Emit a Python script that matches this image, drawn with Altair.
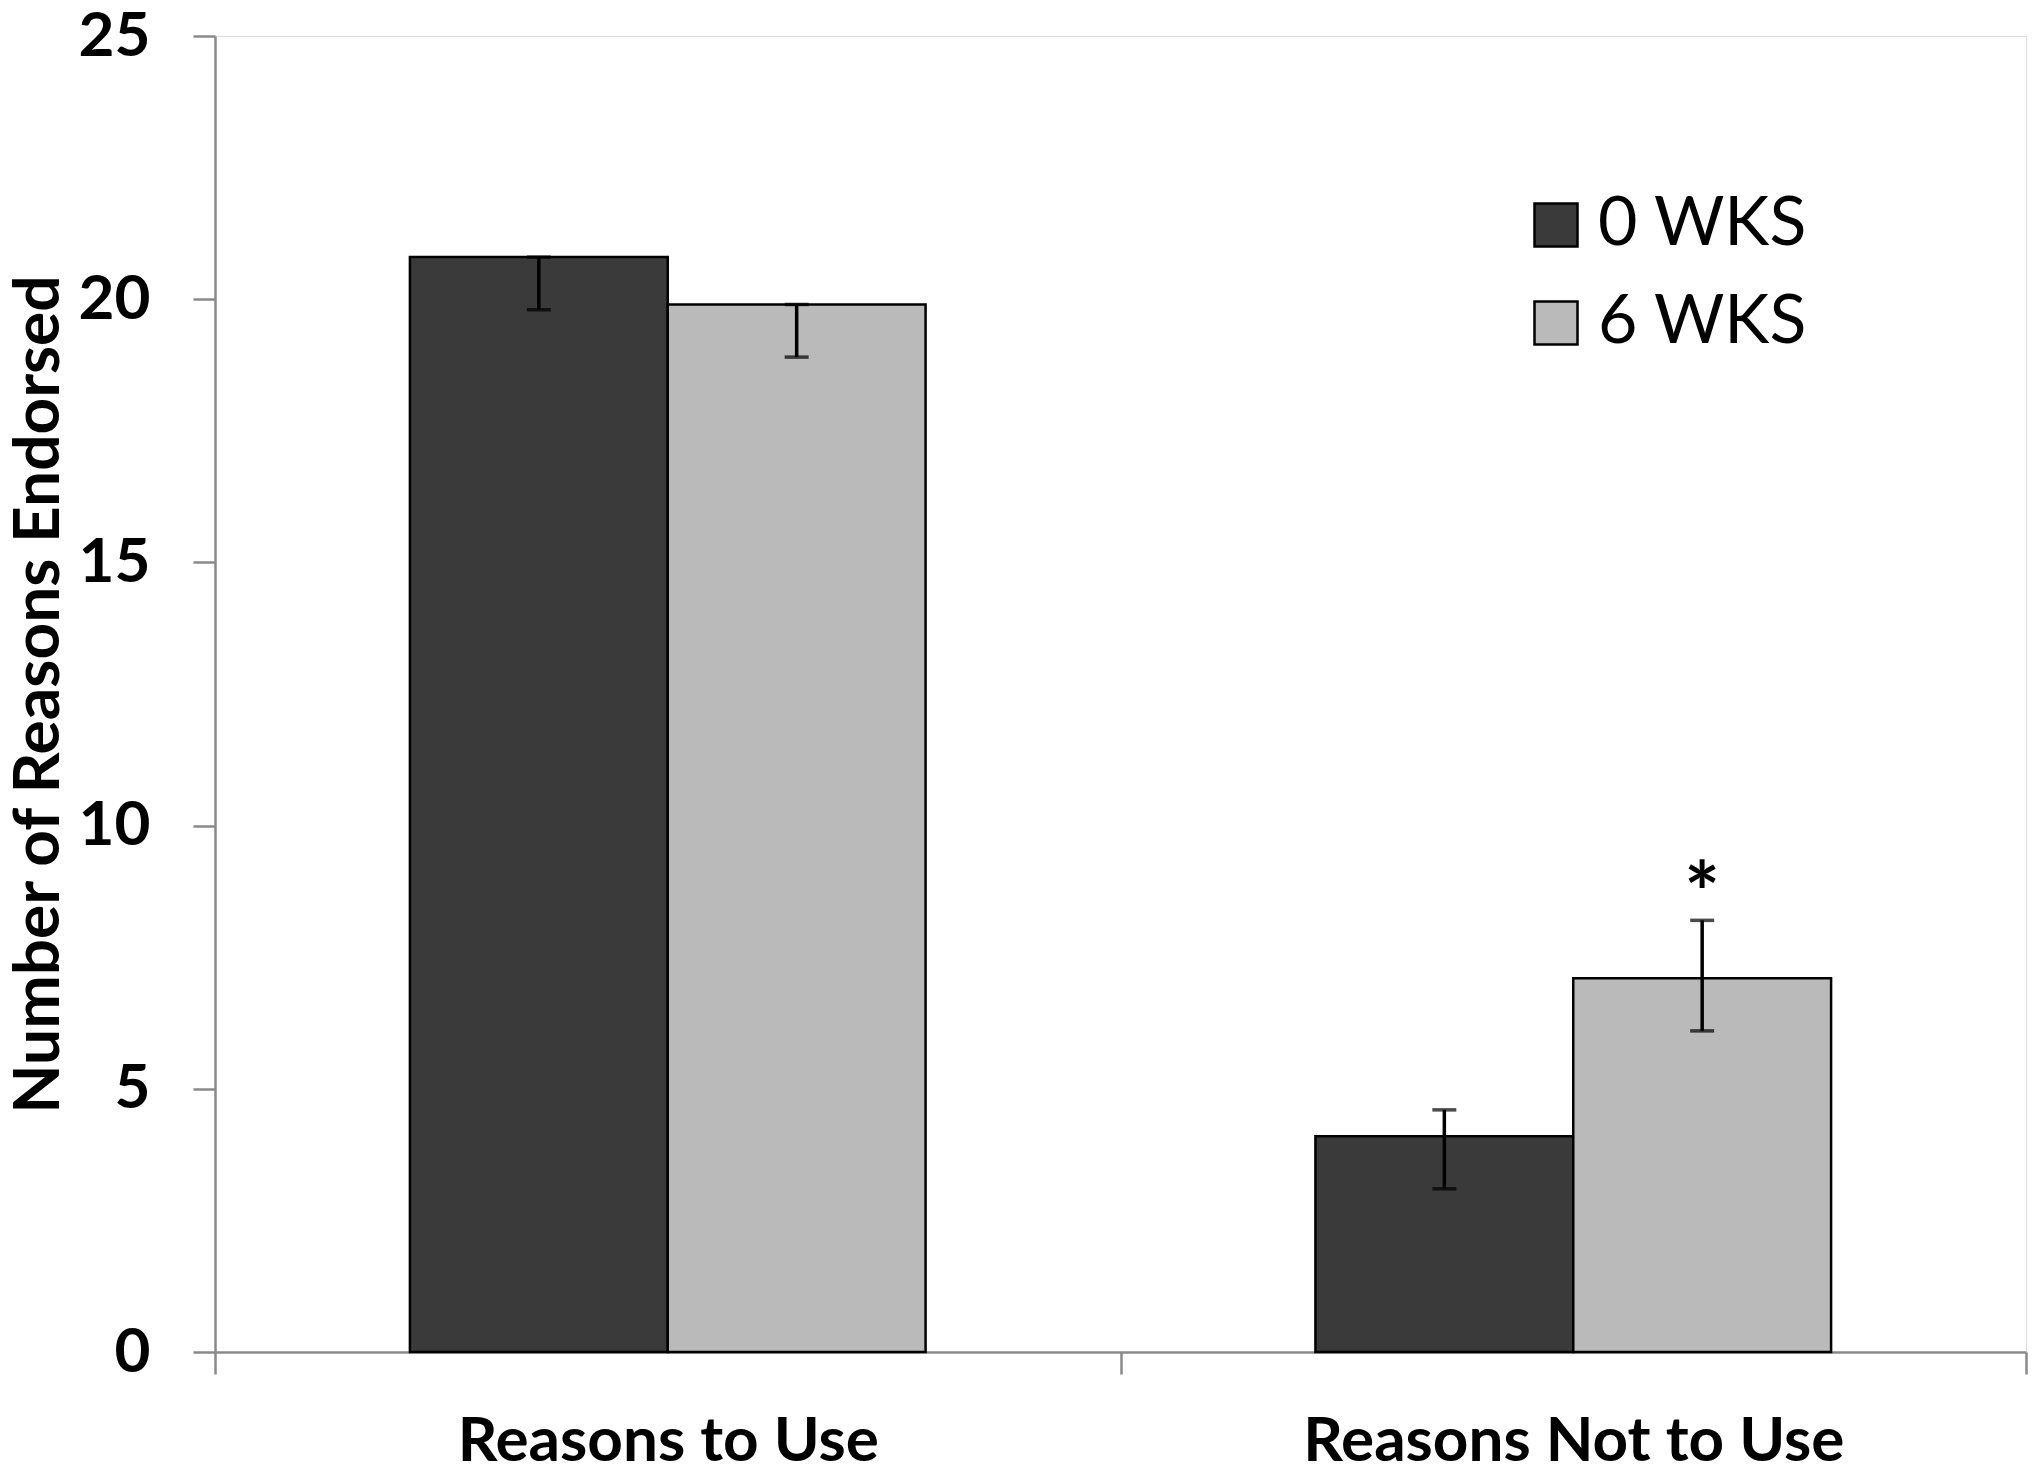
import altair as alt
import pandas as pd

# ---- data ----
categories = ["Reasons to Use", "Reasons Not to Use"]
groups = ["0 WKS", "6 WKS"]
means_0wks = [20.8, 4.1]
means_6wks = [19.9, 7.1]
err_low_0wks = [19.8, 3.1]
err_high_0wks = [20.8, 4.6]
err_low_6wks = [18.9, 6.1]
err_high_6wks = [19.9, 8.2]
star_category = ["Reasons Not to Use"]
star_group = ["6 WKS"]
star_value = [9.0]
star_text = ["*"]
y_ticks = [0, 5, 10, 15, 20, 25]

rows = []
for i, c in enumerate(categories):
    rows.append({"category": c, "group": groups[0], "mean": means_0wks[i],
                 "lo": err_low_0wks[i], "hi": err_high_0wks[i]})
    rows.append({"category": c, "group": groups[1], "mean": means_6wks[i],
                 "lo": err_low_6wks[i], "hi": err_high_6wks[i]})
df = pd.DataFrame(rows)
star_df = pd.DataFrame({"category": star_category, "group": star_group,
                        "value": star_value, "text": star_text})

FONT = "Lato"
AXIS_GRAY = "#8a8a8a"

x_enc = alt.X("category:N", sort=categories,
              scale=alt.Scale(paddingInner=0, paddingOuter=0),
              axis=alt.Axis(title=None, labelAngle=0, tickBand="extent", labelLimit=0,
                            labelFont=FONT, labelFontSize=62, labelFontWeight="bold",
                            labelColor="black", labelBaseline="alphabetic",
                            labelPadding=86, tickSize=22, tickColor=AXIS_GRAY,
                            tickWidth=2.5, domainColor=AXIS_GRAY, domainWidth=2.5))
xo_enc = alt.XOffset("group:N", sort=groups,
                     scale=alt.Scale(paddingOuter=0.756, paddingInner=0))
y_scale = alt.Scale(domain=[0, 25], nice=False)

bars = alt.Chart(df).mark_bar(stroke="black", strokeWidth=2.5).encode(
    x=x_enc,
    xOffset=xo_enc,
    y=alt.Y("mean:Q", scale=y_scale,
            axis=alt.Axis(values=y_ticks, grid=False, title="Number of Reasons Endorsed",
                          labelFont=FONT, labelFontSize=62, labelFontWeight="bold",
                          labelColor="black", labelPadding=43, tickSize=22,
                          tickColor=AXIS_GRAY, tickWidth=2.5, domainColor=AXIS_GRAY,
                          domainWidth=2.5, titleFont=FONT, titleFontSize=64,
                          titleFontWeight="bold", titleColor="black", titleAngle=-90,
                          titleX=-176, titleY=658, titleAlign="center",
                          titleBaseline="middle", titleLimit=0)),
    color=alt.Color("group:N", sort=groups,
                    scale=alt.Scale(domain=groups, range=["#3a3a3a", "#bababa"]),
                    legend=alt.Legend(title=None, orient="none", legendX=1307, legendY=155,
                                      symbolType="square", symbolSize=1849,
                                      symbolStrokeColor="black", symbolStrokeWidth=2.5,
                                      labelFont=FONT, labelFontSize=68, labelLimit=0,
                                      labelFontWeight="normal", labelColor="black",
                                      labelOffset=8, rowPadding=30, padding=0)),
)

err_rule = alt.Chart(df).mark_rule(color="black", strokeWidth=3.5).encode(
    x=alt.X("category:N", sort=categories), xOffset=alt.XOffset("group:N", sort=groups),
    y=alt.Y("lo:Q", scale=y_scale), y2="hi:Q")
cap_lo = alt.Chart(df).mark_tick(color="black", size=24, thickness=3.5).encode(
    x=alt.X("category:N", sort=categories), xOffset=alt.XOffset("group:N", sort=groups),
    y=alt.Y("lo:Q", scale=y_scale))
cap_hi = alt.Chart(df).mark_tick(color="black", size=24, thickness=3.5).encode(
    x=alt.X("category:N", sort=categories), xOffset=alt.XOffset("group:N", sort=groups),
    y=alt.Y("hi:Q", scale=y_scale))
star = alt.Chart(star_df).mark_text(font=FONT, fontSize=84, fontWeight="bold",
                                    color="black", baseline="middle", dy=20).encode(
    x=alt.X("category:N", sort=categories), xOffset=alt.XOffset("group:N", sort=groups),
    y=alt.Y("value:Q", scale=y_scale), text="text:N")

chart = alt.layer(bars, err_rule, cap_lo, cap_hi, star).properties(
    width=1811, height=1316,
    autosize=alt.AutoSizeParams(type="none"),
    padding={"left": 207, "top": 28, "right": 6, "bottom": 113},
).configure_view(stroke=None).configure(background="white")

chart.save("out.html", embed_options={"renderer": "svg", "actions": False})
